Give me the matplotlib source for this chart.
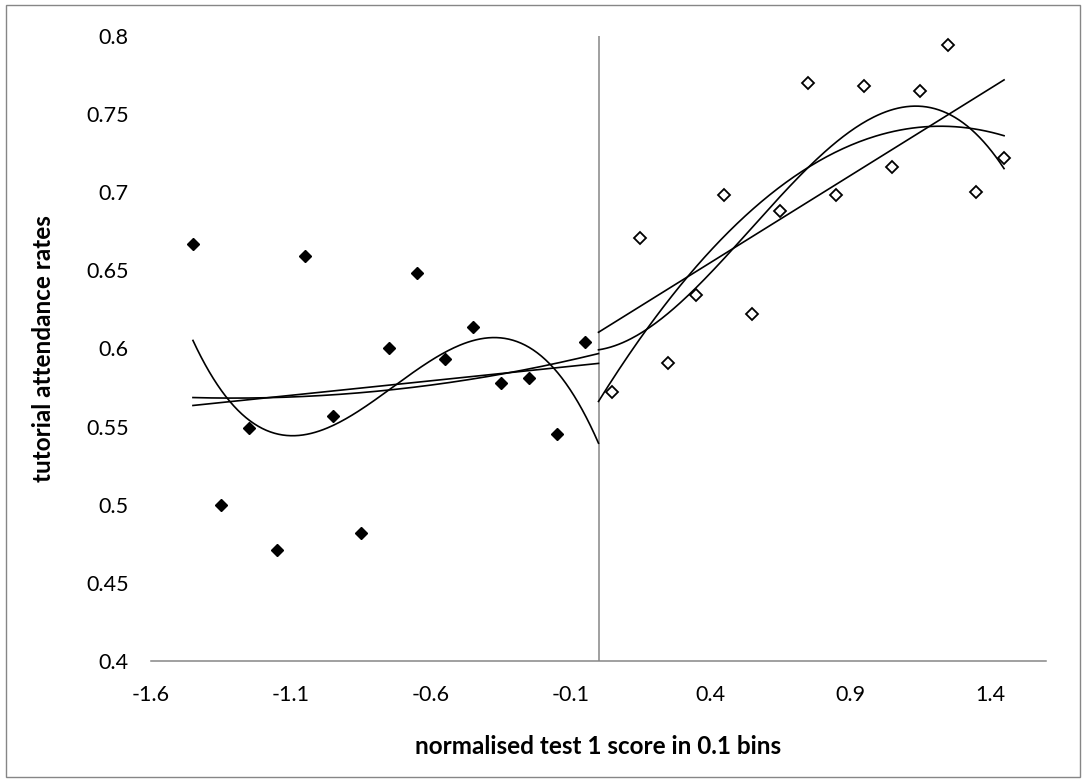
import matplotlib
matplotlib.use("Agg")
from matplotlib import pyplot as plt
from matplotlib.patches import Rectangle
import numpy as np

# bins below the cutoff (filled diamonds)
left_x = [-1.45, -1.35, -1.25, -1.15, -1.05, -0.95, -0.85, -0.75,
          -0.65, -0.55, -0.45, -0.35, -0.25, -0.15, -0.05]
left_y = [0.667, 0.500, 0.549, 0.471, 0.659, 0.557, 0.482, 0.600,
          0.648, 0.593, 0.614, 0.578, 0.581, 0.545, 0.604]

# bins above the cutoff (open diamonds)
right_x = [0.05, 0.15, 0.25, 0.35, 0.45, 0.55, 0.65, 0.75,
           0.85, 0.95, 1.05, 1.15, 1.25, 1.35, 1.45]
right_y = [0.572, 0.671, 0.591, 0.634, 0.698, 0.622, 0.688, 0.770,
           0.698, 0.768, 0.716, 0.765, 0.794, 0.700, 0.722]

x_ticks = [-1.6, -1.1, -0.6, -0.1, 0.4, 0.9, 1.4]
y_ticks = [0.4, 0.45, 0.5, 0.55, 0.6, 0.65, 0.7, 0.75, 0.8]
cutoff = 0.0
trend_orders = [1, 2, 3]

plt.rcParams['font.family'] = ['Lato', 'DejaVu Sans']

fig = plt.figure(figsize=(10.86, 7.82), dpi=100)
ax = fig.add_axes([151 / 1086, 1 - 661 / 782, 895 / 1086, 625 / 782])

grey = '#868686'

# trendlines, fitted to each side, extended to the cutoff
for xs, ys, lo, hi in [(left_x, left_y, left_x[0], cutoff),
                       (right_x, right_y, cutoff, right_x[-1])]:
    grid = np.linspace(lo, hi, 200)
    for order in trend_orders:
        coef = np.polyfit(xs, ys, order)
        ax.plot(grid, np.polyval(coef, grid), color='black', lw=1.2, zorder=2)

ax.plot(left_x, left_y, 'D', ms=6.5, color='black', mec='black', zorder=3)
ax.plot(right_x, right_y, 'D', ms=5.8, mfc='white', mec='black', mew=1.3, zorder=3)

ax.axvline(cutoff, color=grey, lw=1.1, zorder=1)

ax.set_xlim(-1.6, 1.6)
ax.set_ylim(0.4, 0.8)
ax.set_xticks(x_ticks)
ax.set_xticklabels([f'{v:g}' for v in x_ticks])
ax.set_yticks(y_ticks)
ax.set_yticklabels([f'{v:g}' for v in y_ticks])
ax.tick_params(axis='x', length=0, pad=17, labelsize=15.5)
ax.tick_params(axis='y', length=0, pad=16, labelsize=15.5)

for side in ['top', 'right', 'left']:
    ax.spines[side].set_visible(False)
ax.spines['bottom'].set_color(grey)
ax.spines['bottom'].set_linewidth(1.1)

ax.set_xlabel('normalised test 1 score in 0.1 bins', fontsize=17.5, fontweight='bold')
ax.set_ylabel('tutorial attendance rates', fontsize=17.5, fontweight='bold')
ax.xaxis.set_label_coords(0.5, -0.118)
ax.yaxis.set_label_coords(-0.107, 0.5)

fig.patches.append(Rectangle((6 / 1086, 5 / 782), 1 - 12 / 1086, 1 - 10 / 782,
                             transform=fig.transFigure, fill=False,
                             edgecolor=grey, lw=1.0))

fig.savefig('out.png', dpi=100)
